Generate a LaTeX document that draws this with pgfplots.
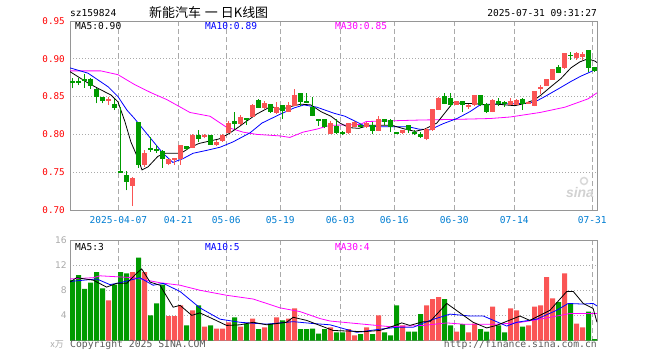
\documentclass[border=0pt]{standalone}
\usepackage{fontspec}
\setmainfont{DejaVu Sans}
\setmonofont{DejaVu Sans Mono}
\newfontfamily\cjk{Noto Sans CJK SC}
\newfontfamily\lsans{Liberation Sans}
\usepackage{pgfplots}
\usepackage{pgfplotstable}
\pgfplotsset{compat=1.18}
\definecolor{cred}{RGB}{250,85,85}
\definecolor{cgreen}{RGB}{0,155,0}
\definecolor{cblue}{RGB}{0,0,255}
\definecolor{cmag}{RGB}{255,0,255}
\definecolor{gridgray}{RGB}{170,170,170}
\definecolor{framegray}{RGB}{150,150,150}
\definecolor{datecol}{RGB}{0,125,210}
\definecolor{textgray}{RGB}{90,90,90}

\pgfplotstableread{
i o h l c v
6 0.845 0.850 0.839 0.846 6.4
10 0.733 0.744 0.705 0.742 10.9
12 0.760 0.780 0.757 0.775 10.9
16 0.761 0.768 0.759 0.767 3.9
17 0.767 0.768 0.760 0.768 3.9
18 0.768 0.786 0.760 0.785 5.6
20 0.783 0.801 0.782 0.798 4.8
22 0.797 0.800 0.795 0.798 2.2
24 0.786 0.793 0.785 0.790 1.9
25 0.792 0.801 0.790 0.799 1.9
26 0.802 0.818 0.802 0.815 2.9
28 0.814 0.826 0.813 0.822 2.2
30 0.823 0.840 0.823 0.838 3.5
32 0.835 0.844 0.833 0.841 2.1
34 0.829 0.843 0.827 0.836 3.7
36 0.830 0.843 0.829 0.838 3.5
37 0.838 0.860 0.837 0.852 5.1
43 0.801 0.818 0.800 0.815 2.1
46 0.802 0.815 0.801 0.814 1.8
47 0.810 0.818 0.810 0.816 0.8
49 0.811 0.816 0.809 0.815 2.1
51 0.805 0.824 0.804 0.820 4.0
55 0.802 0.806 0.801 0.805 2.4
59 0.794 0.808 0.792 0.807 5.6
60 0.806 0.834 0.805 0.833 6.6
61 0.833 0.849 0.832 0.848 6.9
64 0.840 0.844 0.839 0.843 1.4
66 0.837 0.840 0.834 0.838 1.3
67 0.839 0.852 0.837 0.852 2.7
70 0.830 0.847 0.829 0.845 5.4
73 0.840 0.848 0.840 0.843 5.1
74 0.840 0.847 0.840 0.845 4.8
76 0.841 0.844 0.840 0.842 2.4
77 0.838 0.857 0.837 0.857 5.4
78 0.861 0.866 0.854 0.862 5.6
79 0.865 0.873 0.865 0.873 10.1
80 0.873 0.886 0.872 0.886 6.7
82 0.888 0.907 0.887 0.907 10.7
84 0.902 0.909 0.899 0.907 2.7
85 0.903 0.909 0.898 0.906 2.1
}\up

\pgfplotstableread{
i o h l c v
0 0.8695 0.874 0.861 0.869 9.6
1 0.870 0.875 0.865 0.869 10.4
2 0.873 0.880 0.862 0.871 8.2
3 0.873 0.874 0.860 0.864 9.2
4 0.860 0.861 0.841 0.850 10.9
5 0.849 0.850 0.841 0.845 8.3
7 0.840 0.847 0.832 0.835 8.9
8 0.751 0.836 0.749 0.750 10.9
9 0.746 0.751 0.726 0.737 10.7
11 0.816 0.817 0.756 0.760 13.2
13 0.781 0.796 0.777 0.780 4.0
14 0.780 0.786 0.776 0.779 5.9
15 0.777 0.779 0.756 0.768 8.9
19 0.784 0.784 0.780 0.781 2.4
21 0.798 0.806 0.790 0.794 5.6
23 0.798 0.798 0.786 0.787 2.4
27 0.817 0.829 0.807 0.814 3.7
29 0.821 0.821 0.813 0.820 2.7
31 0.845 0.847 0.835 0.836 1.8
33 0.840 0.840 0.828 0.830 2.7
35 0.838 0.838 0.821 0.832 3.2
38 0.854 0.854 0.838 0.843 1.8
39 0.843 0.855 0.841 0.842 1.8
40 0.836 0.850 0.824 0.825 1.9
41 0.820 0.821 0.811 0.818 1.1
42 0.820 0.820 0.808 0.810 1.8
44 0.810 0.821 0.801 0.802 1.3
45 0.803 0.804 0.799 0.802 1.3
48 0.812 0.814 0.809 0.810 1.0
50 0.812 0.817 0.800 0.805 1.0
52 0.820 0.821 0.813 0.817 1.3
53 0.819 0.820 0.803 0.810 0.8
54 0.803 0.803 0.800 0.802 5.6
56 0.812 0.812 0.802 0.806 1.4
57 0.803 0.806 0.799 0.802 1.4
58 0.800 0.803 0.795 0.797 4.2
62 0.850 0.855 0.840 0.841 6.6
63 0.848 0.855 0.836 0.839 2.4
65 0.843 0.843 0.829 0.839 2.6
68 0.851 0.851 0.837 0.839 1.8
69 0.839 0.841 0.828 0.830 1.4
71 0.843 0.848 0.838 0.841 2.4
72 0.842 0.844 0.836 0.841 1.3
75 0.846 0.848 0.832 0.841 2.2
81 0.888 0.892 0.881 0.882 6.1
83 0.905 0.909 0.899 0.904 5.8
86 0.911 0.911 0.882 0.888 4.6
87 0.888 0.888 0.883 0.885 0.2
}\down

\pgfplotsset{
  kbase/.style={
    scale only axis, width=527bp,
    xmin=-0.45, xmax=87.4,
    xtick={7.6,17.6,25.6,34.6,44.6,53.6,63.6,73.6,86.6},
    major tick length=0pt,
    axis line style={draw=framegray, line width=0.9bp},
    xmajorgrids, ymajorgrids,
    x grid style={draw=gridgray, dash pattern=on 5bp off 3bp, line width=0.8bp},
    y grid style={draw=gridgray, dash pattern=on 1bp off 2bp, line width=0.8bp},
    clip=true,
  },
  wick/.style={draw=none, mark=none, forget plot,
    error bars/.cd, y dir=plus, y explicit, error mark=none,
    error bar style={line width=1bp, draw=#1, solid}},
  body/.style={draw=none, mark=none, forget plot,
    error bars/.cd, y dir=both, y explicit, error mark=none,
    error bar style={line width=5bp, draw=#1, solid}},
}

\begin{document}
\begin{tikzpicture}
\path[use as bounding box] (0,0) rectangle (660bp,-360bp);

% ---------- price panel ----------
\begin{axis}[kbase, at={(70bp,-21bp)}, anchor=north west, height=189bp,
  ymin=0.70, ymax=0.95,
  ytick={0.70,0.75,0.80,0.85,0.90,0.95},
  yticklabels={0.70,0.75,0.80,0.85,0.90,0.95},
  yticklabel style={font=\ttfamily\fontsize{9.3}{10}\selectfont, text=red, inner sep=0pt, xshift=-5bp},
  xticklabels={2025-04-07,04-21,05-06,05-19,06-03,06-16,06-30,07-14,07-31},
  xticklabel style={font=\ttfamily\fontsize{9.6}{10}\selectfont, text=datecol, inner sep=0pt, yshift=-6bp},
]
% MA30
\addplot[cmag, line width=0.8bp] coordinates {
(-0.45,0.884)(4.7,0.884)(7.55,0.879)(10.3,0.866)(13.1,0.855)(15.7,0.846)(19.55,0.829)(22.9,0.824)(25.55,0.810)(28.4,0.803)(30.7,0.800)(34.55,0.798)(36.2,0.796)(38.4,0.803)(40.7,0.807)(42.9,0.812)(47.9,0.813)(48.9,0.817)(53.2,0.818)(57.9,0.819)(64.55,0.820)(69.55,0.821)(72.9,0.823)(77.9,0.829)(82.05,0.836)(85.9,0.847)(87.4,0.855)};
% MA10
\addplot[cblue, line width=0.8bp] coordinates {
(-0.45,0.888)(2.55,0.881)(5.9,0.863)(7.55,0.850)(9.05,0.832)(10.3,0.821)(12.55,0.799)(15.05,0.775)(16.7,0.763)(18.4,0.768)(20.05,0.775)(22.4,0.779)(24.55,0.783)(26.7,0.790)(29.55,0.802)(31.55,0.815)(34.4,0.826)(36.9,0.835)(38.55,0.839)(40.7,0.836)(43.55,0.828)(45.4,0.824)(47.7,0.815)(48.7,0.811)(51.55,0.810)(56.05,0.810)(57.7,0.807)(59.55,0.806)(61.7,0.814)(64.05,0.821)(66.2,0.830)(67.9,0.839)(69.55,0.840)(75.9,0.841)(77.05,0.843)(78.7,0.850)(80.9,0.860)(83.05,0.870)(84.7,0.877)(86.4,0.883)(87.4,0.888)};
% MA5
\addplot[black, line width=0.8bp] coordinates {
(-0.45,0.883)(2.55,0.868)(4.2,0.861)(6.4,0.852)(7.55,0.843)(8.7,0.817)(9.7,0.790)(10.9,0.768)(11.55,0.753)(12.55,0.757)(14.2,0.771)(15.4,0.775)(18.05,0.775)(19.4,0.782)(21.05,0.788)(22.7,0.791)(24.4,0.794)(26.05,0.801)(27.7,0.810)(28.9,0.817)(30.7,0.827)(33.05,0.837)(34.7,0.833)(36.4,0.837)(38.05,0.840)(39.7,0.839)(41.4,0.830)(43.05,0.824)(44.55,0.815)(46.05,0.809)(47.7,0.808)(49.4,0.812)(53.2,0.812)(55.4,0.807)(57.05,0.804)(58.7,0.807)(60.7,0.815)(62.4,0.832)(63.4,0.842)(65.05,0.841)(66.7,0.841)(69.05,0.839)(70.7,0.840)(73.7,0.838)(75.4,0.841)(77.05,0.846)(78.05,0.852)(79.7,0.863)(81.4,0.874)(83.05,0.888)(84.55,0.896)(85.9,0.900)(87.05,0.897)(87.4,0.895)};
% candles
\addplot[wick=cred] table[x=i, y=l, y error plus expr={\thisrow{h}-\thisrow{l}}] {\up};
\addplot[body=cred] table[x=i, y expr={(\thisrow{o}+\thisrow{c})/2}, y error plus expr={abs(\thisrow{c}-\thisrow{o})/2+0.0006}, y error minus expr={abs(\thisrow{c}-\thisrow{o})/2+0.0006}] {\up};
\addplot[wick=cgreen] table[x=i, y=l, y error plus expr={\thisrow{h}-\thisrow{l}}] {\down};
\addplot[body=cgreen] table[x=i, y expr={(\thisrow{o}+\thisrow{c})/2}, y error plus expr={abs(\thisrow{c}-\thisrow{o})/2+0.0006}, y error minus expr={abs(\thisrow{c}-\thisrow{o})/2+0.0006}] {\down};
\end{axis}

% ---------- volume panel ----------
\begin{axis}[kbase, at={(70bp,-240bp)}, anchor=north west, height=100.5bp,
  ymin=0, ymax=16,
  ytick={4,8,12,16}, yticklabels={4,8,12,16},
  yticklabel style={font=\fontsize{9.2}{10}\selectfont, text=gridgray, inner sep=0pt, xshift=-3bp},
  xticklabels={},
]
\addplot[ybar, bar width=5bp, bar shift=0pt, fill=cred, draw=none, forget plot] table[x=i, y=v] {\up};
\addplot[ybar, bar width=5bp, bar shift=0pt, fill=cgreen, draw=none, forget plot] table[x=i, y=v] {\down};
\addplot[cmag, line width=0.8bp] coordinates {
(-0.45,9.8)(3.45,10.0)(4.55,10.3)(10.1,10.0)(12.35,9.6)(14.55,9.2)(17.9,8.8)(21.2,8.0)(25.65,7.2)(30.1,6.6)(34.55,5.2)(37.9,4.6)(41.2,3.5)(42.9,3.1)(48.45,2.6)(52.9,2.2)(58.45,2.4)(62.35,2.8)(65.1,2.6)(70.65,2.6)(74.0,2.8)(77.35,3.3)(81.8,4.1)(82.9,4.3)(87.4,4.3)};
\addplot[cblue, line width=0.8bp] coordinates {
(-0.45,9.4)(4.0,9.8)(6.2,8.9)(7.9,9.2)(11.2,10.0)(13.4,8.8)(15.1,9.1)(17.9,7.8)(21.2,5.2)(24.55,3.4)(27.9,2.9)(32.35,2.6)(36.75,3.0)(40.1,2.7)(42.9,2.5)(47.35,1.3)(51.2,1.8)(54.0,2.1)(56.75,2.1)(59.55,3.2)(62.9,4.2)(66.2,3.9)(68.45,3.9)(70.65,3.0)(72.35,2.3)(74.0,2.9)(77.35,3.4)(80.65,4.8)(82.6,5.9)(85.1,5.8)(86.75,5.9)(87.4,5.5)};
\addplot[black, line width=0.8bp] coordinates {
(-0.45,9.3)(0.65,10.0)(3.45,9.6)(5.65,8.5)(7.35,9.1)(9.0,9.1)(10.65,10.7)(11.5,11.4)(12.9,9.3)(14.55,8.8)(16.75,5.3)(17.9,5.6)(19.85,4.0)(21.2,4.4)(23.45,3.4)(25.65,2.4)(27.9,2.5)(30.1,2.9)(32.35,2.5)(35.65,2.9)(36.75,3.7)(39.0,3.2)(41.2,2.4)(43.4,1.6)(48.45,1.4)(51.2,1.6)(53.45,2.3)(54.85,2.8)(56.2,2.4)(58.45,3.0)(59.55,3.0)(62.35,5.9)(64.55,4.4)(66.75,2.9)(69.0,2.0)(70.65,2.4)(74.55,3.9)(76.2,3.2)(79.55,4.8)(82.35,7.8)(83.45,7.8)(85.1,5.9)(86.75,5.1)(87.4,2.9)};
\end{axis}

% ---------- texts ----------
\node[anchor=west, inner sep=0pt, font=\ttfamily\fontsize{9.6}{10}\selectfont] at (70bp,-13.3bp) {sz159824};
\node[anchor=west, inner sep=0pt, font=\cjk\fontsize{13}{14}\selectfont] at (149bp,-13bp) {新能汽车\hspace{4bp}一\hspace{3bp}日K线图};
\node[anchor=east, inner sep=0pt, font=\ttfamily\fontsize{9.6}{10}\selectfont] at (597bp,-13.3bp) {2025-07-31 09:31:27};

\node[anchor=west, inner sep=0pt, font=\ttfamily\fontsize{9.6}{10}\selectfont] at (75bp,-25.8bp) {MA5:0.90};
\node[anchor=west, inner sep=0pt, font=\ttfamily\fontsize{9.6}{10}\selectfont, text=cblue] at (205bp,-25.8bp) {MA10:0.89};
\node[anchor=west, inner sep=0pt, font=\ttfamily\fontsize{9.6}{10}\selectfont, text=cmag] at (335bp,-25.8bp) {MA30:0.85};

\node[anchor=west, inner sep=0pt, font=\ttfamily\fontsize{9.6}{10}\selectfont] at (75bp,-246.7bp) {MA5:3};
\node[anchor=west, inner sep=0pt, font=\ttfamily\fontsize{9.6}{10}\selectfont, text=cblue] at (205bp,-246.7bp) {MA10:5};
\node[anchor=west, inner sep=0pt, font=\ttfamily\fontsize{9.6}{10}\selectfont, text=cmag] at (335bp,-246.7bp) {MA30:4};

\node[anchor=east, inner sep=0pt, font=\cjk\fontsize{9}{10}\selectfont, text=gridgray] at (64bp,-344bp) {x万};
\node[anchor=west, inner sep=0pt, font=\ttfamily\fontsize{9.8}{10}\selectfont, text=textgray] at (70bp,-345bp) {Copyright 2025 SINA.COM};
\node[anchor=east, inner sep=0pt, font=\ttfamily\fontsize{9.8}{10}\selectfont, text=textgray] at (597bp,-345bp) {http://finance.sina.com.cn};

\node[inner sep=0pt, font=\lsans\bfseries\itshape\fontsize{14}{15}\selectfont, text=gray!35] at (580bp,-193bp) {sina};
\draw[gray!30, line width=1.5bp] (584bp,-181bp) circle (3.5bp);
\end{tikzpicture}
\end{document}
